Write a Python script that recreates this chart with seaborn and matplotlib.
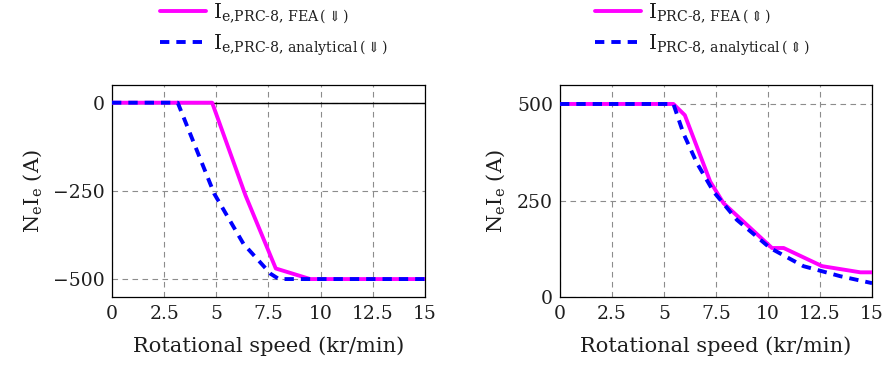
import matplotlib
matplotlib.use("Agg")
import matplotlib.pyplot as plt
import seaborn as sns
import pandas as pd

# Excitation current N_e*I_e versus rotational speed, PRC-8 machine
speed_fea_dn = [0, 4.8, 6.4, 7.85, 9.5, 15]
current_fea_dn = [0, 0, -263, -470, -500, -500]
speed_ana_dn = [0, 3.15, 4.9, 6.3, 7.6, 8.0, 15]
current_ana_dn = [0, 0, -258, -400, -485, -500, -500]

speed_fea_ud = [0, 5.45, 6.0, 7.22, 7.86, 10.19, 10.75, 12.6, 14.44, 15]
current_fea_ud = [500, 500, 471, 299, 243, 127, 127, 80, 64, 64]
speed_ana_ud = [0, 5.45, 5.93, 6.58, 7.38, 8.5, 10.1, 11.7, 13.47, 15]
current_ana_ud = [500, 500, 424, 347, 273, 200, 127, 80, 54, 36]

x_ticks = [0, 2.5, 5, 7.5, 10, 12.5, 15]
x_tick_labels = ["0", "2.5", "5", "7.5", "10", "12.5", "15"]
y_ticks_dn = [0, -250, -500]
y_ticks_ud = [0, 250, 500]

labels_dn = [r"$\mathrm{I}_{\text{e,PRC-8, FEA}\,(\Downarrow)}$",
             r"$\mathrm{I}_{\text{e,PRC-8, analytical}\,(\Downarrow)}$"]
labels_ud = [r"$\mathrm{I}_{\text{PRC-8, FEA}\,(\Updownarrow)}$",
             r"$\mathrm{I}_{\text{PRC-8, analytical}\,(\Updownarrow)}$"]

sns.set_theme(style="white")
plt.rcParams["font.family"] = ["DejaVu Serif"]
plt.rcParams["mathtext.fontset"] = "dejavuserif"
FS = 13.5
LABEL_FS = 15
LEGEND_FS = 14.5
TEXT_COLOR = "#1e1e1e"
plt.rcParams["font.size"] = FS

MAGENTA = "#FF00FF"
BLUE = "#0000FF"
LW = 2.8
DASH = (0, (2.4, 1.8))

fig = plt.figure(figsize=(8.84, 3.69), dpi=100)
ax1 = fig.add_axes([0.1267, 0.195, 0.354, 0.5745])
ax2 = fig.add_axes([0.6335, 0.195, 0.353, 0.5745])


def style_axes(ax, yticks, ylim):
    ax.set_xlim(0, 15)
    ax.set_ylim(*ylim)
    ax.set_xticks(x_ticks)
    ax.set_xticklabels(x_tick_labels)
    ax.set_yticks(yticks)
    ax.grid(True, color="#8c8c8c", linestyle=(0, (5, 4)), linewidth=0.8)
    ax.tick_params(axis="both", length=0, labelsize=FS, colors="black",
                   labelcolor=TEXT_COLOR)
    ax.tick_params(axis="x", pad=6)
    ax.tick_params(axis="y", pad=5)
    for s in ax.spines.values():
        s.set_color("black")
        s.set_linewidth(0.9)


style_axes(ax1, y_ticks_dn, (-551, 50))
style_axes(ax2, y_ticks_ud, (0, 549))

ax1.axhline(0, color="black", linewidth=1.0, zorder=1.5)

df_fea_dn = pd.DataFrame({"speed": speed_fea_dn, "current": current_fea_dn})
df_ana_dn = pd.DataFrame({"speed": speed_ana_dn, "current": current_ana_dn})
df_fea_ud = pd.DataFrame({"speed": speed_fea_ud, "current": current_fea_ud})
df_ana_ud = pd.DataFrame({"speed": speed_ana_ud, "current": current_ana_ud})

sns.lineplot(data=df_fea_dn, x="speed", y="current", ax=ax1, color=MAGENTA,
             linewidth=LW, label=labels_dn[0], zorder=3)
sns.lineplot(data=df_ana_dn, x="speed", y="current", ax=ax1, color=BLUE,
             linewidth=LW, linestyle=DASH, label=labels_dn[1], zorder=4)
sns.lineplot(data=df_fea_ud, x="speed", y="current", ax=ax2, color=MAGENTA,
             linewidth=LW, label=labels_ud[0], zorder=3)
sns.lineplot(data=df_ana_ud, x="speed", y="current", ax=ax2, color=BLUE,
             linewidth=LW, linestyle=DASH, label=labels_ud[1], zorder=4)

for ax in (ax1, ax2):
    ax.set_xlabel("Rotational speed (kr/min)", fontsize=LABEL_FS, labelpad=9,
                  color=TEXT_COLOR)
    ax.set_ylabel(r"$\mathrm{N_e I_e}$ (A)", fontsize=LABEL_FS, labelpad=7,
                  color=TEXT_COLOR)

for ax, x0 in ((ax1, 160 / 884), (ax2, 595 / 884)):
    h, l = ax.get_legend_handles_labels()
    ax.get_legend().remove()
    leg = fig.legend(h, l, loc="upper left", bbox_to_anchor=(x0, 0.995),
                     frameon=False, fontsize=LEGEND_FS, handlelength=2.3,
                     handletextpad=0.35, labelspacing=0.3, borderpad=0.0,
                     borderaxespad=0.0)
    for t in leg.get_texts():
        t.set_color(TEXT_COLOR)

fig.savefig("out.png", dpi=100)
